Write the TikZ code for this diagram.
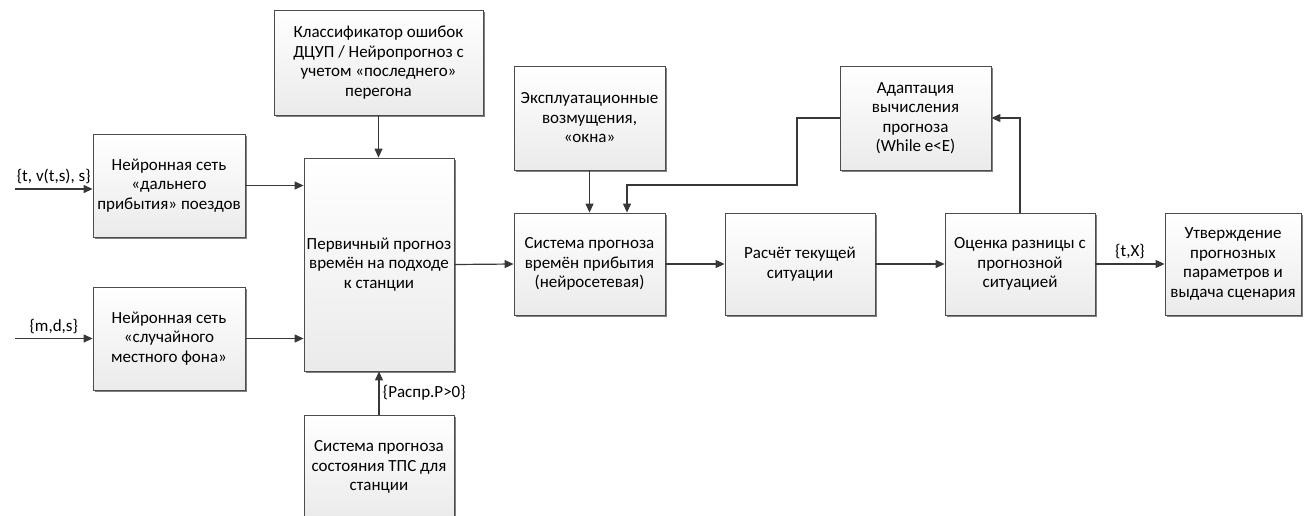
\documentclass[tikz,border=0pt]{standalone}
\usepackage{fontspec}
\setmainfont{Carlito}
\usetikzlibrary{arrows.meta}
\usetikzlibrary{shadows}

\begin{document}
\begin{tikzpicture}[x=1pt,y=-1pt,>={Triangle[length=9pt,width=8pt]},
        blk/.style={draw=black!70,line width=0.8pt,top color=white,bottom color=black!8,
            drop shadow={shadow xshift=2pt,shadow yshift=-2pt,fill=black!50,opacity=1},
            align=center,inner sep=1pt,font=\fontsize{17}{19.5}\selectfont},
        lnk/.style={draw=black!78,line width=1.2pt},
        lbl/.style={font=\fontsize{17}{20}\selectfont}]
        \useasboundingbox (0,0) rectangle (1304,515);
        \clip (0,0) rectangle (1304,515);
        % blocks
        \node [blk,minimum width=152pt,minimum height=103pt] (farnet) at (169,185.5) {Нейронная сеть\\«дальнего\\прибытия» поездов};
        \node [blk,minimum width=152pt,minimum height=103pt] (localnet) at (169,338.5) {Нейронная сеть\\«случайного\\местного фона»};
        \node [blk,minimum width=209pt,minimum height=105pt] (classif) at (378.5,62.5) {Классификатор ошибок\\ДЦУП / Нейропрогноз с\\учетом «последнего»\\перегона};
        \node [blk,minimum width=150pt,minimum height=213pt] (primary) at (379,264.5) {Первичный прогноз\\времён на подходе\\к станции};
        \node [blk,minimum width=150pt,minimum height=104pt] (tps) at (379,467) {Система прогноза\\состояния ТПС для\\станции};
        \node [blk,minimum width=151pt,minimum height=104pt] (disturb) at (589.5,118) {Эксплуатационные\\возмущения,\\«окна»};
        \node [blk,minimum width=151pt,minimum height=102pt] (arrival) at (589.5,264) {Система прогноза\\времён прибытия\\(нейросетевая)};
        \node [blk,minimum width=151pt,minimum height=104pt] (adapt) at (915.5,118) {Адаптация\\вычисления\\прогноза\\(While e<E)};
        \node [blk,minimum width=150pt,minimum height=102pt] (current) at (800,264) {Расчёт текущей\\ситуации};
        \node [blk,minimum width=150pt,minimum height=102pt] (estim) at (1020,264) {Оценка разницы с\\прогнозной\\ситуацией};
        \node [blk,minimum width=136pt,minimum height=102pt] (approve) at (1233,264) {Утверждение\\прогнозных\\параметров и\\выдача сценария};
        % inputs
        \coordinate (in1) at (15,189);
        \coordinate (in2) at (15,338.5);
        \draw [lnk,->] (in1) -- (in1 -| farnet.west) node [lbl,midway,above=1pt] {\{t, v(t,s), s\}};
        \draw [lnk,->] (in2) -- (in2 -| localnet.west) node [lbl,midway,above=1pt] {\{m,d,s\}};
        % links
        \draw [lnk,->] (farnet.east) -- (farnet.east -| primary.west);
        \draw [lnk,->] (localnet.east) -- (localnet.east -| primary.west);
        \draw [lnk,->] (classif.south) -- (classif.south |- primary.north);
        \draw [lnk,->] (tps.north) -- (primary.south) node [lbl,midway,right=0pt] {\{Распр.P>0\}};
        \draw [lnk,->] (primary.east) -- (arrival.west);
        \draw [lnk,->] (disturb.south) -- (arrival.north);
        \draw [lnk,->] (arrival.east) -- (current.west);
        \draw [lnk,->] (current.east) -- (estim.west);
        \draw [lnk,->] (estim.east) -- (approve.west) node [lbl,midway,above=1pt] {\{t,X\}};
        % feedback
        \coordinate (fbk) at (797,185);
        \draw [lnk,->] (estim.north) |- (adapt.east);
        \draw [lnk,->] (adapt.west) -| (fbk) -| ([xshift=37.5pt]arrival.north);
    \end{tikzpicture}
\end{document}
